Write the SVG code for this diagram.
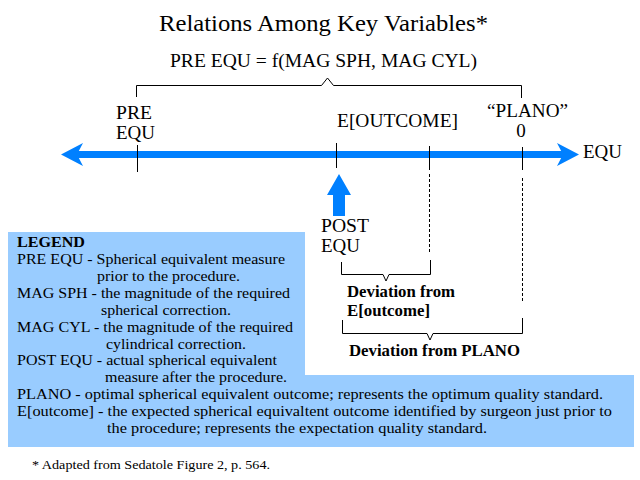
<svg xmlns="http://www.w3.org/2000/svg" width="640" height="480" viewBox="0 0 640 480">
<style>
.t{font-size:24px}
.m{font-size:19px}
.b{font-size:17px;font-weight:bold}
.l{font-size:15.5px}
.f{font-size:13.5px}
.k{stroke:#000;stroke-width:1;fill:none}
.d{stroke:#000;stroke-width:1;stroke-dasharray:3 2;fill:none}
.blue{fill:#0080FF}
</style>
<rect width="640" height="480" fill="#fff"/>
<g font-family="Liberation Serif, Times New Roman, serif" fill="#000">
<g id="title">
<text class="t" x="159" y="31" textLength="329" lengthAdjust="spacingAndGlyphs">Relations Among Key Variables*</text>
</g>
<g id="formula">
<text class="m" x="170" y="67" textLength="307" lengthAdjust="spacingAndGlyphs">PRE EQU = f(MAG SPH, MAG CYL)</text>
</g>
<g id="legend">
<path d="M8 232H305V375H634V447H8Z" fill="#99CCFF"/>
<text class="l" x="17" y="247" font-weight="bold" textLength="68" lengthAdjust="spacingAndGlyphs">LEGEND</text>
<text class="l" x="17" y="264" textLength="268" lengthAdjust="spacingAndGlyphs">PRE EQU - Spherical equivalent measure</text>
<text class="l" x="97" y="281" textLength="143" lengthAdjust="spacingAndGlyphs">prior to the procedure.</text>
<text class="l" x="17" y="298" textLength="273" lengthAdjust="spacingAndGlyphs">MAG SPH - the magnitude of the required</text>
<text class="l" x="101" y="315" textLength="130" lengthAdjust="spacingAndGlyphs">spherical correction.</text>
<text class="l" x="17" y="332" textLength="276" lengthAdjust="spacingAndGlyphs">MAG CYL - the magnitude of the required</text>
<text class="l" x="106" y="349" textLength="140" lengthAdjust="spacingAndGlyphs">cylindrical correction.</text>
<text class="l" x="17" y="365" textLength="260" lengthAdjust="spacingAndGlyphs">POST EQU - actual spherical equivalent</text>
<text class="l" x="105" y="382" textLength="182" lengthAdjust="spacingAndGlyphs">measure after the procedure.</text>
<text class="l" x="17" y="399" textLength="586" lengthAdjust="spacingAndGlyphs">PLANO - optimal spherical equivalent outcome; represents the optimum quality standard.</text>
<text class="l" x="17" y="416" textLength="595" lengthAdjust="spacingAndGlyphs">E[outcome] - the expected spherical equivaltent outcome identified by surgeon just prior to</text>
<text class="l" x="107" y="433" textLength="380" lengthAdjust="spacingAndGlyphs">the procedure; represents the expectation quality standard.</text>
</g>
<g id="footnote">
<text class="f" x="32" y="469" textLength="238" lengthAdjust="spacingAndGlyphs">* Adapted from Sedatole Figure 2, p. 564.</text>
</g>
<g id="axis">
<rect class="blue" x="72" y="151" width="496" height="7"/>
<path class="blue" d="M61 154.5L83 143L77 154.5L83 166Z"/>
<path class="blue" d="M579 154.5L557 143L563 154.5L557 166Z"/>
<text class="m" x="583" y="158" textLength="39" lengthAdjust="spacingAndGlyphs">EQU</text>
</g>
<g id="pre-equ">
<text class="m" x="116" y="119" textLength="36" lengthAdjust="spacingAndGlyphs">PRE</text>
<text class="m" x="116" y="139" textLength="39" lengthAdjust="spacingAndGlyphs">EQU</text>
</g>
<g id="e-outcome">
<text class="m" x="337" y="127" textLength="121" lengthAdjust="spacingAndGlyphs">E[OUTCOME]</text>
</g>
<g id="plano">
<text class="m" x="487" y="117" textLength="81" lengthAdjust="spacingAndGlyphs">“PLANO”</text>
<text class="m" x="521" y="137" text-anchor="middle">0</text>
</g>
<g id="post-equ">
<path class="blue" d="M339 174L351 195H345V216H333V195H327Z"/>
<text class="m" x="321" y="232" textLength="48" lengthAdjust="spacingAndGlyphs">POST</text>
<text class="m" x="321" y="252" textLength="39" lengthAdjust="spacingAndGlyphs">EQU</text>
</g>
<g id="dev-outcome">
<text class="b" x="347" y="297" textLength="108" lengthAdjust="spacingAndGlyphs">Deviation from</text>
<text class="b" x="347" y="316" textLength="83" lengthAdjust="spacingAndGlyphs">E[outcome]</text>
</g>
<g id="dev-plano">
<text class="b" x="349" y="356" textLength="171" lengthAdjust="spacingAndGlyphs">Deviation from PLANO</text>
</g>
</g>
<g id="connectors">
<path class="k" d="M136.5 97V85.5H321.5L327.5 78L333.5 85.5H521.5V98"/>
<path class="k" d="M137.5 145V172"/>
<path class="k" d="M336.5 143V168"/>
<path class="k" d="M429.5 146V170"/>
<path class="d" d="M429.5 174V253"/>
<path class="k" d="M522.5 147V170"/>
<path class="d" d="M522.5 178V303"/>
<path class="k" d="M341.5 262V274.5H383L386 281L389 274.5H430.5V260"/>
<path class="k" d="M342.5 320V333.5H427L430 340L433 333.5H522.5V318"/>
</g>
</svg>
